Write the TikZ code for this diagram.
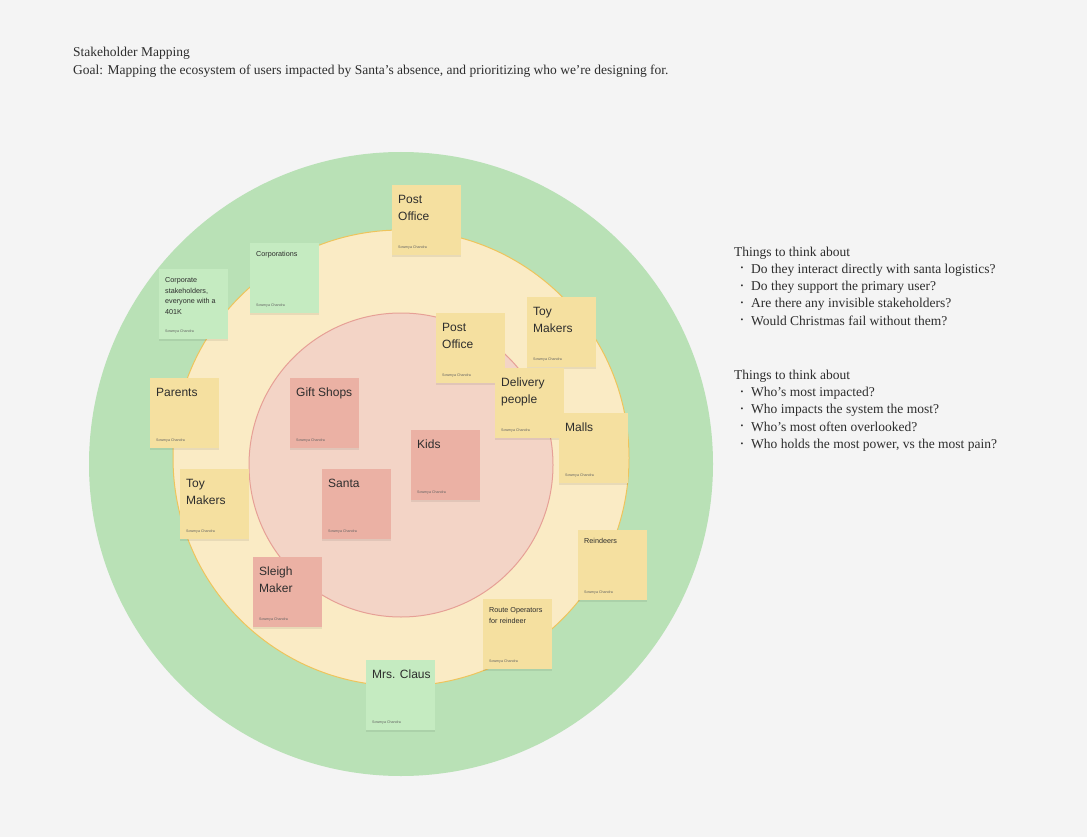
\documentclass[tikz,border=0pt]{standalone}
\usepackage{fontspec}
\setmainfont{Liberation Serif}
\newfontfamily\notefont{Liberation Sans}
\definecolor{bg}{RGB}{244,244,244}
\definecolor{ringgreen}{RGB}{185,225,182}
\definecolor{ringyellow}{RGB}{250,235,197}
\definecolor{ringyellowline}{RGB}{238,196,92}
\definecolor{ringred}{RGB}{243,212,198}
\definecolor{ringredline}{RGB}{230,160,150}
\definecolor{noteyellow}{RGB}{245,224,160}
\definecolor{notered}{RGB}{235,177,164}
\definecolor{notegreen}{RGB}{197,235,193}
\definecolor{ink}{RGB}{45,45,45}
\tikzset{
  notebox/.style={draw=none, minimum width=69pt, minimum height=70pt, inner sep=0pt, anchor=north west},
  noteshadow/.style={fill=black, opacity=0.07},
  notelabel/.style={inner sep=0pt, align=left, text=ink, anchor=north west},
  noteauthor/.style={inner sep=0pt, text=ink!75, font=\notefont\fontsize{3.6}{4}\selectfont, anchor=base west},
  bigtxt/.style={font=\notefont\fontsize{12}{17}\selectfont},
  smalltxt/.style={font=\notefont\fontsize{7.2}{10.5}\selectfont},
  bodytxt/.style={inner sep=0pt, anchor=base west, text=ink, font=\fontsize{13.5}{15}\selectfont},
  bullettxt/.style={inner sep=0pt, anchor=base, text=ink, font=\fontsize{8}{8}\selectfont},
}
% name, x, y, colour, text style, top offset, text
\newcommand\stickynote[7]{%
  \fill[noteshadow] (#2,#3+1.5) rectangle ++(69,70);
  \node[notebox, fill=#4] (#1) at (#2,#3) {};
  \node[notelabel, #5] (#1-t) at ([xshift=6pt,yshift=-#6pt]#1.north west) {#7};
  \node[noteauthor] (#1-a) at ([xshift=6pt,yshift=7pt]#1.south west) {Sowmya Chandra};
}
\begin{document}
\begin{tikzpicture}[x=1pt,y=-1pt]
\useasboundingbox (0,0) rectangle (1087,837);
\fill[bg] (0,0) rectangle (1087,837);

% title
\node[bodytxt] (title) at (73,56.5) {Stakeholder Mapping};
\node[bodytxt] (goal) at (73,74.5) {Goal: Mapping the ecosystem of users impacted by Santa’s absence, and prioritizing who we’re designing for.};

% rings
\node[circle, fill=ringgreen, minimum size=624pt, inner sep=0pt] (outer) at (401,464) {};
\node[circle, fill=ringyellow, draw=ringyellowline, line width=1pt, minimum size=456pt, inner sep=0pt] (middle) at (401,458) {};
\node[circle, fill=ringred, draw=ringredline, line width=1pt, minimum size=304pt, inner sep=0pt] (inner) at (401,465) {};

% sticky notes
\stickynote{poTop}{392}{185}{noteyellow}{bigtxt}{9.7}{Post\\Office}
\stickynote{corp}{250}{243}{notegreen}{smalltxt}{8.5}{Corporations}
\stickynote{corpst}{159}{269}{notegreen}{smalltxt}{8.5}{Corporate\\stakeholders,\\everyone with a\\401K}
\stickynote{poIn}{436}{313}{noteyellow}{bigtxt}{9.7}{Post\\Office}
\stickynote{toyR}{527}{297}{noteyellow}{bigtxt}{9.7}{Toy\\Makers}
\stickynote{deliv}{495}{368}{noteyellow}{bigtxt}{9.7}{Delivery\\people}
\stickynote{malls}{559}{413}{noteyellow}{bigtxt}{9.7}{Malls}
\stickynote{parents}{150}{378}{noteyellow}{bigtxt}{9.7}{Parents}
\stickynote{gift}{290}{378}{notered}{bigtxt}{9.7}{Gift Shops}
\stickynote{kids}{411}{430}{notered}{bigtxt}{9.7}{Kids}
\stickynote{santa}{322}{469}{notered}{bigtxt}{9.7}{Santa}
\stickynote{toyL}{180}{469}{noteyellow}{bigtxt}{9.7}{Toy\\Makers}
\stickynote{sleigh}{253}{557}{notered}{bigtxt}{9.7}{Sleigh\\Maker}
\stickynote{reind}{578}{530}{noteyellow}{smalltxt}{8.5}{Reindeers}
\stickynote{route}{483}{599}{noteyellow}{smalltxt}{8.5}{Route Operators\\for reindeer}
\stickynote{claus}{366}{660}{notegreen}{bigtxt}{9.7}{Mrs. Claus}

% right-hand prompts
\node[bodytxt] (h1) at (734,256) {Things to think about};
\node[bullettxt] (b1) at (742,270.8) {•};
\node[bodytxt] (l1) at (751,273.3) {Do they interact directly with santa logistics?};
\node[bullettxt] (b2) at (742,288.1) {•};
\node[bodytxt] (l2) at (751,290.6) {Do they support the primary user?};
\node[bullettxt] (b3) at (742,305.4) {•};
\node[bodytxt] (l3) at (751,307.9) {Are there any invisible stakeholders?};
\node[bullettxt] (b4) at (742,322.7) {•};
\node[bodytxt] (l4) at (751,325.2) {Would Christmas fail without them?};

\node[bodytxt] (h2) at (734,379.3) {Things to think about};
\node[bullettxt] (c1) at (742,394.1) {•};
\node[bodytxt] (m1) at (751,396.6) {Who’s most impacted?};
\node[bullettxt] (c2) at (742,411.4) {•};
\node[bodytxt] (m2) at (751,413.9) {Who impacts the system the most?};
\node[bullettxt] (c3) at (742,428.7) {•};
\node[bodytxt] (m3) at (751,431.2) {Who’s most often overlooked?};
\node[bullettxt] (c4) at (742,446.0) {•};
\node[bodytxt] (m4) at (751,448.5) {Who holds the most power, vs the most pain?};
\end{tikzpicture}
\end{document}
